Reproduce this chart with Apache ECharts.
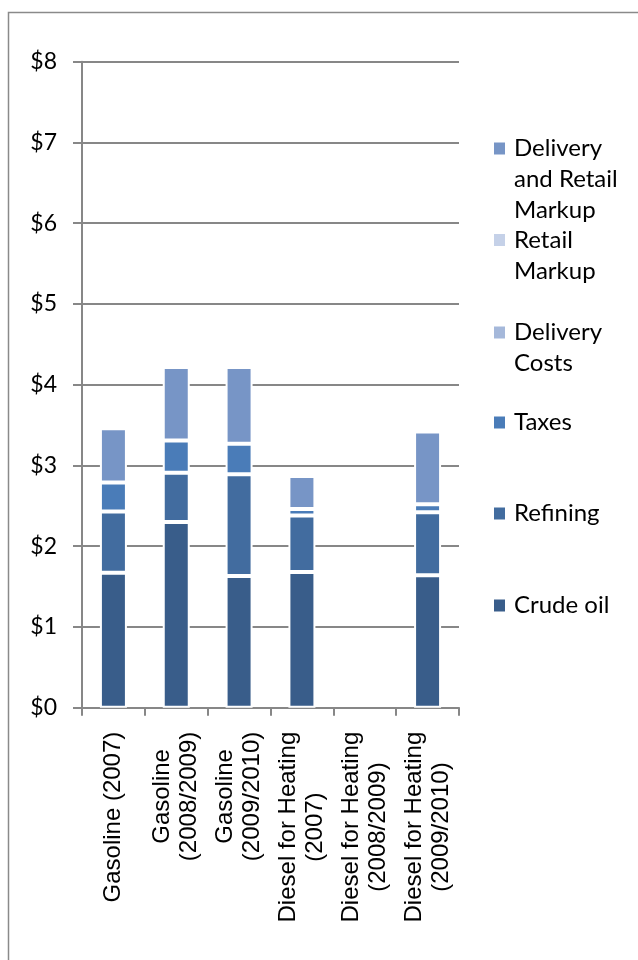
<!DOCTYPE html>
<html>
<head>
<meta charset="utf-8">
<title>Fuel price breakdown</title>
<script src="https://cdn.jsdelivr.net/npm/echarts@6/dist/echarts.min.js"></script>
<style>
  html, body { margin: 0; padding: 0; background: #ffffff; }
  #chart { width: 638px; height: 960px; }
</style>
</head>
<body>
<div id="chart"></div>
<script>
// Price per gallon, split into its components
const categories = [
  'Gasoline (2007)',
  'Gasoline\n(2008/2009)',
  'Gasoline\n(2009/2010)',
  'Diesel for Heating\n(2007)',
  'Diesel for Heating\n(2008/2009)',
  'Diesel for Heating\n(2009/2010)'
];
const crudeOil = [1.67, 2.30, 1.63, 1.68, null, 1.64];
const refining = [0.76, 0.61, 1.26, 0.70, null, 0.78];
const taxes = [0.36, 0.40, 0.38, 0.08, null, 0.10];
const deliveryCosts = [null, null, null, null, null, null];
const retailMarkup = [null, null, null, null, null, null];
const deliveryAndRetail = [0.67, 0.91, 0.95, 0.41, null, 0.90];
const yTicks = [0, 1, 2, 3, 4, 5, 6, 7, 8];

const seriesDefs = [
  { name: 'Crude oil', data: crudeOil, color: '#395d8a' },
  { name: 'Refining', data: refining, color: '#426c9f' },
  { name: 'Taxes', data: taxes, color: '#4a7cb8' },
  { name: 'Delivery Costs', data: deliveryCosts, color: '#a5b8da' },
  { name: 'Retail Markup', data: retailMarkup, color: '#c5d1e8' },
  { name: 'Delivery and Retail Markup', data: deliveryAndRetail, color: '#7795c6' }
];

const legendLabels = {
  'Delivery and Retail Markup': 'Delivery\nand Retail\nMarkup',
  'Retail Markup': 'Retail\nMarkup',
  'Delivery Costs': 'Delivery\nCosts',
  'Taxes': 'Taxes',
  'Refining': 'Refining',
  'Crude oil': 'Crude oil'
};
// vertical centre of each legend marker
const legendCentres = {
  'Delivery and Retail Markup': 148.5,
  'Retail Markup': 240,
  'Delivery Costs': 332.5,
  'Taxes': 422.5,
  'Refining': 513.5,
  'Crude oil': 605.5
};

const uiFont = 'Lato';
const catFont = 'Liberation Sans';
const LH = 31;
const ITEM_H = 12;

// one legend block per series; blank leading lines keep the marker level with the first text line
const legends = Object.keys(legendLabels).map(function (name) {
  const lines = legendLabels[name].split('\n').length;
  const total = 2 * lines - 1;
  const lead = new Array(lines).join('\n');
  return {
    data: [name],
    left: 494,
    top: legendCentres[name] - total * LH / 2,
    padding: 0,
    itemWidth: 11,
    itemHeight: ITEM_H,
    icon: 'rect',
    selectedMode: false,
    itemStyle: { borderWidth: 0 },
    formatter: function (n) { return lead + legendLabels[n]; },
    textStyle: {
      fontFamily: uiFont,
      fontSize: 24,
      lineHeight: LH,
      color: '#000000',
      padding: [0, 0, 0, 4]
    }
  };
});

const axisGray = '#878787';

const option = {
  animation: false,
  backgroundColor: '#ffffff',
  graphic: [{
    type: 'rect',
    shape: { x: 8.5, y: 12.5, width: 700, height: 1000 },
    style: { fill: 'none', stroke: '#8a8a8a', lineWidth: 1.5 },
    silent: true
  }],
  legend: legends,
  grid: { left: 82, right: 179, top: 61.7, bottom: 252.3, containLabel: false },
  xAxis: {
    type: 'category',
    data: categories,
    boundaryGap: true,
    axisLine: { show: true, lineStyle: { color: axisGray, width: 2 } },
    axisTick: { show: true, length: 8, lineStyle: { color: axisGray, width: 2 } },
    axisLabel: {
      interval: 0,
      rotate: 90,
      margin: 24,
      formatter: function (v) {
        return v.split('\n').map(function (s) { return '{c|' + s + '}'; }).join('\n');
      },
      rich: {
        c: {
          fontFamily: catFont,
          fontSize: 24,
          lineHeight: 27,
          align: 'center',
          color: '#000000'
        }
      }
    }
  },
  yAxis: {
    type: 'value',
    min: yTicks[0],
    max: yTicks[yTicks.length - 1],
    interval: 1,
    axisLine: { show: true, lineStyle: { color: axisGray, width: 2 } },
    axisTick: { show: true, length: 9, lineStyle: { color: axisGray, width: 2 } },
    splitLine: { show: true, lineStyle: { color: axisGray, width: 2 } },
    axisLabel: {
      margin: 25,
      fontFamily: uiFont,
      fontSize: 23,
      color: '#000000',
      formatter: function (v) { return '$' + v; }
    }
  },
  series: seriesDefs.map(function (s) {
    return {
      name: s.name,
      type: 'bar',
      stack: 'price',
      barWidth: 27,
      data: s.data,
      itemStyle: { color: s.color, borderColor: '#ffffff', borderWidth: 2 },
      emphasis: { disabled: true }
    };
  })
};

const chart = echarts.init(document.getElementById('chart'), null, { renderer: 'canvas' });
chart.setOption(option);
</script>
</body>
</html>
